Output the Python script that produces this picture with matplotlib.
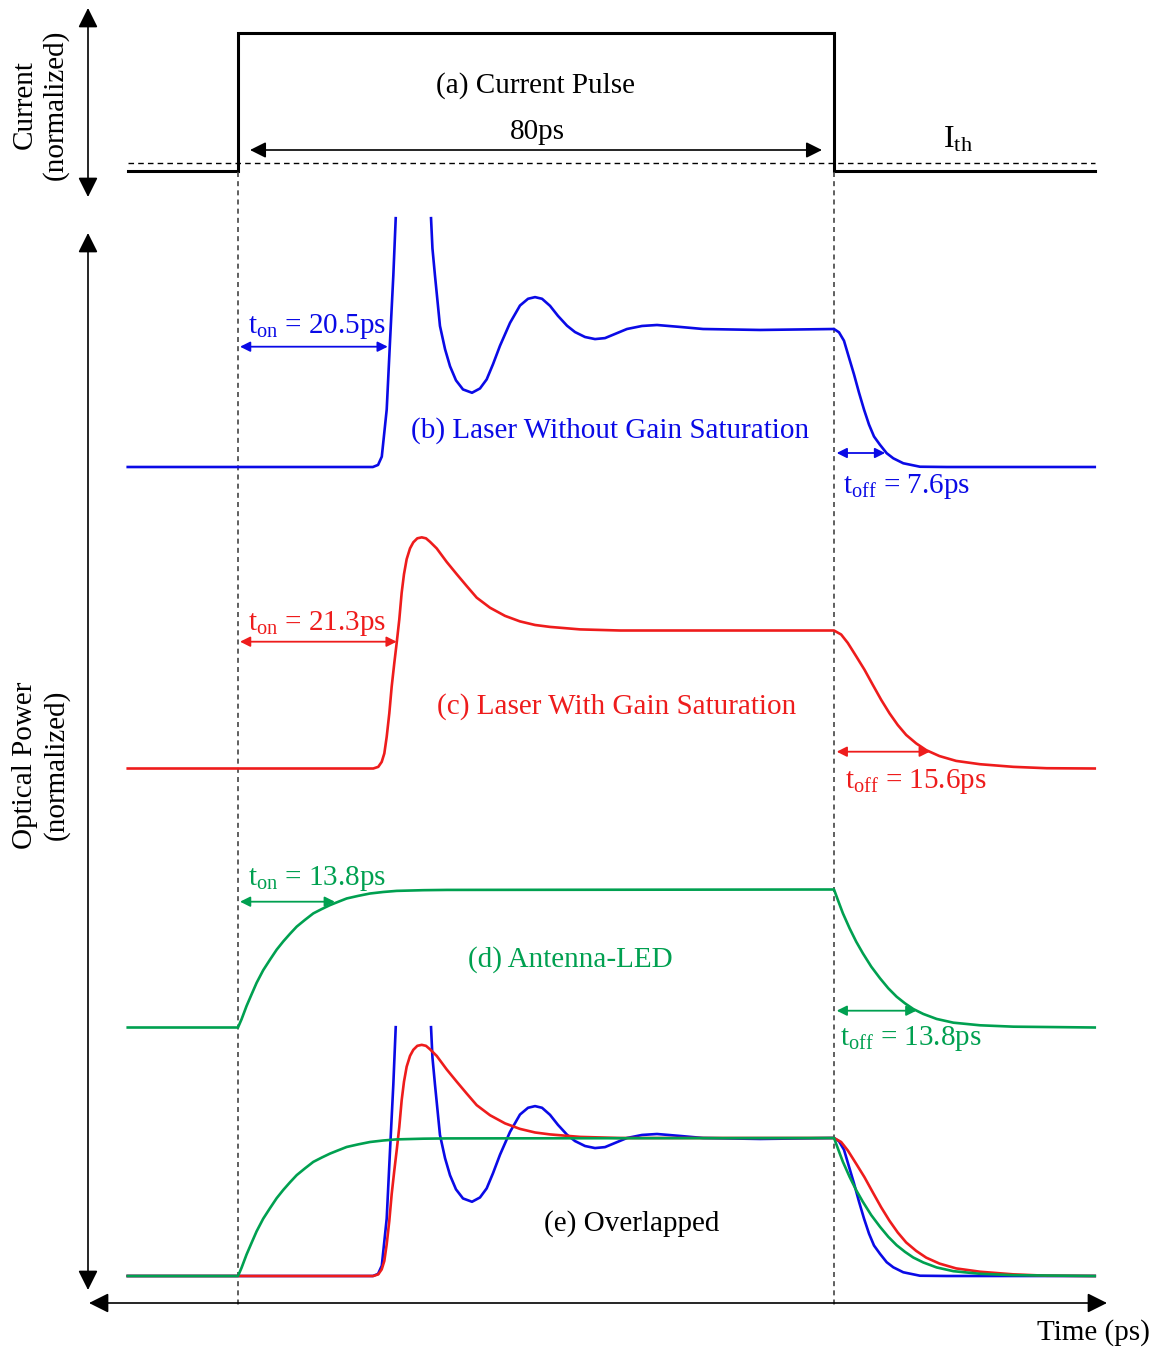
import numpy as np
import matplotlib
matplotlib.use("Agg")
import matplotlib.pyplot as plt

plt.rcParams["font.family"] = ["Liberation Serif", "DejaVu Serif"]
plt.rcParams["mathtext.fontset"] = "custom"
plt.rcParams["mathtext.rm"] = "Liberation Serif"
plt.rcParams["mathtext.it"] = "Liberation Serif:italic"

# ---------------- data (time in ps, power normalised to steady state) -------
pulse_width = 80
current_t = [-14.8, 0, 0, 80, 80, 115]
current_v = [0, 0, 1, 1, 0, 0]
ith_level = 0.06

blue_t = [-14.8, 18.1, 18.8, 19.3, 19.96, 20.4, 20.85, 21.17, np.nan,
          25.91, 26.1, 26.44, 27.11, 27.79, 28.46, 29.26, 30.2, 31.41, 32.48,
          33.38, 34.23, 35.17, 36.51, 37.85, 38.93, 39.87, 40.81, 41.88, 42.95,
          44.16, 45.23, 46.58, 47.92, 49.26, 50.6, 52.21, 54.23, 56.24, 59.33,
          62.42, 70.07, 80.0, 80.67, 81.34, 82.01, 82.68, 83.36, 84.03, 84.7,
          85.37, 86.17, 87.07, 87.96, 89.3, 91.54, 95.13, 115.0]
blue_v = [0, 0, 0.015, 0.075, 0.416, 0.905, 1.389, 1.803, np.nan,
          1.803, 1.584, 1.387, 1.022, 0.854, 0.73, 0.628, 0.562, 0.538, 0.569,
          0.635, 0.745, 0.879, 1.044, 1.17, 1.219, 1.231, 1.219, 1.168, 1.095,
          1.024, 0.978, 0.942, 0.927, 0.934, 0.964, 1.0, 1.022, 1.029, 1.015,
          1.0, 0.993, 1.0, 0.976, 0.915, 0.793, 0.672, 0.538, 0.416, 0.307,
          0.221, 0.161, 0.1, 0.063, 0.027, 0.002, 0, 0]

red_t = [-14.8, 18.16, 18.83, 19.29, 19.64, 19.96, 20.31, 20.63, 20.98, 21.3,
         21.65, 21.97, 22.28, 22.64, 23.09, 23.53, 24.07, 24.66, 25.23, 25.77,
         26.67, 28.01, 29.36, 30.7, 32.04, 33.83, 35.84, 37.85, 39.87, 41.88,
         45.91, 51.28, 80.0, 80.96, 81.85, 82.98, 84.09, 85.21, 86.34, 87.45,
         88.56, 89.69, 91.03, 92.38, 94.16, 96.4, 99.6, 104.07, 108.55, 115.0]
red_v = [0, 0, 0.012, 0.048, 0.109, 0.23, 0.4, 0.594, 0.764, 0.91,
         1.08, 1.274, 1.408, 1.517, 1.595, 1.639, 1.668, 1.675, 1.668, 1.643,
         1.595, 1.497, 1.408, 1.322, 1.238, 1.165, 1.106, 1.066, 1.04, 1.026,
         1.008, 1.0, 1.0, 0.971, 0.91, 0.813, 0.716, 0.606, 0.497, 0.4,
         0.315, 0.243, 0.182, 0.133, 0.09, 0.055, 0.031, 0.012, 0.002, 0]

green_t = [-14.8, 0.0, 0.48, 1.15, 1.82, 2.5, 3.38, 4.3, 5.19, 6.08, 6.98,
           7.88, 8.99, 10.11, 11.23, 12.35, 13.46, 14.59, 16.15, 17.72, 19.5,
           21.3, 24.87, 28.01, 80.0, 80.52, 81.19, 82.09, 82.98, 83.87, 85.0,
           86.17, 87.29, 88.41, 89.53, 90.64, 91.99, 93.78, 96.02, 99.6,
           104.07, 115.0]
green_v = [0, 0, 0.06, 0.156, 0.24, 0.324, 0.415, 0.492, 0.564, 0.624, 0.679,
           0.731, 0.78, 0.827, 0.858, 0.887, 0.911, 0.935, 0.954, 0.971, 0.982,
           0.99, 0.995, 0.997, 1.0, 0.924, 0.828, 0.719, 0.622, 0.538, 0.441,
           0.357, 0.284, 0.223, 0.175, 0.134, 0.098, 0.062, 0.035, 0.016,
           0.006, 0]

ton_labels = ["20.5", "21.3", "13.8"]
toff_labels = ["7.6", "15.6", "13.8"]
ton_span = [20.1, 21.3, 13.0]     # arrow extents
toff_span = [6.5, 12.5, 10.7]

BLUE, RED, GREEN = "#0a0ae6", "#ee1c1c", "#00a050"

# ---------------- layout (vertical positions in pixel rows) ----------------
PX = 7.45          # pixels per ps
X0 = 238           # pixel column of t = 0


def tx(xpix):
    return (xpix - X0) / PX


fig = plt.figure(figsize=(11.56, 13.51), dpi=100)
ax = fig.add_axes([0, 0, 1, 1])
ax.set_xlim(tx(0), tx(1156))
ax.set_ylim(1351, 0)
ax.axis("off")

LW = 1.9
AMP = 138
FS = 21

# (a) current pulse
ax.plot(current_t, [171 - AMP * v for v in current_v], color="black", lw=2.2,
        solid_joinstyle="miter")
ax.plot([current_t[0], current_t[-1]], [171 - AMP * ith_level] * 2, color="black",
        lw=1.0, dashes=(4, 3))
ax.annotate("", xy=(tx(822), 150), xytext=(tx(250), 150),
            arrowprops=dict(arrowstyle="<|-|>", color="black", lw=1.2,
                            mutation_scale=24, shrinkA=0, shrinkB=0))
ax.text(tx(535), 86, "(a) Current Pulse", fontsize=FS, ha="center", va="center")
ax.text(tx(537), 132, "80ps", fontsize=FS, ha="center", va="center")
ax.text(tx(943), 147, r"I$_{\mathrm{th}}$", fontsize=23, ha="left", va="baseline")

# vertical guides at pulse edges
for t in (0, pulse_width):
    ax.plot([t, t], [172, 1305], color="#444444", lw=1.2, dashes=(3, 2.5))

# traces
bases = [467, 768.5, 1027.5]
series = [(blue_t, blue_v, BLUE), (red_t, red_v, RED), (green_t, green_v, GREEN)]
for (t, v, c), base in zip(series, bases):
    ax.plot(t, [base - AMP * val for val in v], color=c, lw=LW)
for t, v, c in series:
    ax.plot(t, [1276 - AMP * val for val in v], color=c, lw=LW)

# t_on / t_off annotations
ton_y = [346.7, 641.7, 901.7]
ton_text_y = [333, 630, 885]
toff_y = [453, 751.7, 1010.7]
toff_text_y = [493, 788, 1045]
toff_text_x = [843, 845, 840]
colors = [BLUE, RED, GREEN]
for i in range(3):
    c = colors[i]
    ax.annotate("", xy=(ton_span[i], ton_y[i]), xytext=(0.27, ton_y[i]),
                arrowprops=dict(arrowstyle="<|-|>", color=c, lw=1.3,
                                mutation_scale=15, shrinkA=0, shrinkB=0))
    ax.text(tx(248), ton_text_y[i], r"t$_{\mathrm{on}}$ = " + ton_labels[i] + "ps",
            color=c, fontsize=FS, ha="left", va="baseline")
    ax.annotate("", xy=(80.36 + toff_span[i], toff_y[i]), xytext=(80.36, toff_y[i]),
                arrowprops=dict(arrowstyle="<|-|>", color=c, lw=1.3,
                                mutation_scale=15, shrinkA=0, shrinkB=0))
    ax.text(tx(toff_text_x[i]), toff_text_y[i],
            r"t$_{\mathrm{off}}$ = " + toff_labels[i] + "ps",
            color=c, fontsize=FS, ha="left", va="baseline")

ax.text(tx(610), 431, "(b) Laser Without Gain Saturation", color=BLUE, fontsize=FS,
        ha="center", va="center")
ax.text(tx(617), 707, "(c) Laser With Gain Saturation", color=RED, fontsize=FS,
        ha="center", va="center")
ax.text(tx(570), 960, "(d) Antenna-LED", color=GREEN, fontsize=FS,
        ha="center", va="center")
ax.text(tx(632), 1224, "(e) Overlapped", color="black", fontsize=FS,
        ha="center", va="center")

# axes arrows
axis_arrow = dict(arrowstyle="<|-|>", color="black", lw=1.2, mutation_scale=30,
                  shrinkA=0, shrinkB=0)
ax.annotate("", xy=(tx(88), 8), xytext=(tx(88), 197), arrowprops=axis_arrow)
ax.annotate("", xy=(tx(88), 233), xytext=(tx(88), 1290), arrowprops=axis_arrow)
ax.annotate("", xy=(tx(1107), 1303), xytext=(tx(89), 1303), arrowprops=axis_arrow)

ax.text(tx(40), 105, "Current\n(normalized)", fontsize=FS, rotation=90,
        ha="center", va="center", multialignment="center", linespacing=1.2)
ax.text(tx(41), 765, "Optical Power\n(normalized)", fontsize=FS, rotation=90,
        ha="center", va="center", multialignment="center", linespacing=1.2)
ax.text(tx(1093), 1333, "Time (ps)", fontsize=FS, ha="center", va="center")

fig.savefig("out.png", dpi=100)
